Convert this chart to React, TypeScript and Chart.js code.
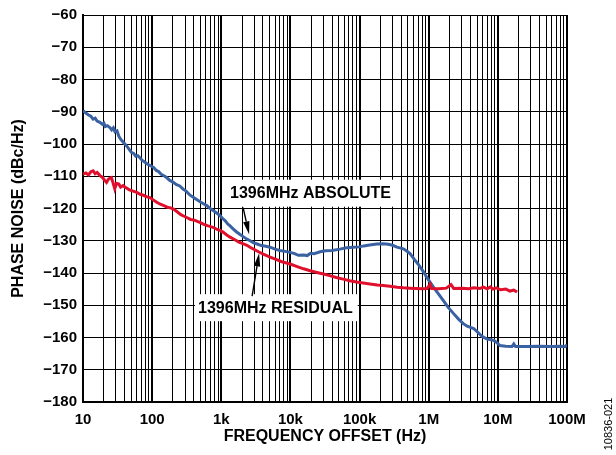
import React, { useEffect, useRef } from 'react';
import { Chart, registerables } from 'chart.js';

Chart.register(...registerables);

// ---- data ----
const ABS_FREQ = [
  10, 11, 12, 13, 14, 15, 16, 17.6, 19, 20, 21, 22.5, 24.5, 26, 27.5, 29, 31, 33, 35, 38,
  42.7, 46, 50, 54, 58, 62, 66, 72, 78, 85, 92, 105, 115, 125, 135, 150, 162, 180, 200, 225,
  251, 280, 310, 350, 398, 440, 500, 560, 617, 700, 780, 860, 955, 1050, 1150, 1250, 1340, 1480, 1650, 1850,
  2100, 2350, 2610, 2900, 3300, 3800, 4400, 5080, 6000, 7000, 8400, 9900, 11500, 13000, 15500, 17500, 19500, 22000, 27000, 32000,
  40000, 52000, 65000, 80000, 100000, 115000, 140000, 178000, 220000, 260000, 300000, 347000, 430000, 480000, 537000, 620000, 700000, 753000, 850000, 933000,
  1050000, 1170000, 1400000, 1620000, 1900000, 2290000, 2700000, 3160000, 3600000, 4470000, 5100000, 5600000, 6170000, 7000000, 8000000, 8700000, 9600000, 10700000, 13000000, 16000000,
  17000000, 18000000, 25000000, 40000000, 60000000, 80000000, 95000000, 100000000,
];
const ABS_DB = [
  -89.7, -90.4, -91.0, -91.4, -92.3, -92.0, -92.9, -93.3, -93.9, -93.5, -94.6, -94.3, -94.9, -95.6, -95.0, -96.2, -95.9, -97.6, -98.5, -99.4,
  -100.6, -101.5, -102.6, -102.9, -103.8, -103.6, -104.2, -105.1, -105.6, -106.2, -106.6, -107.3, -108.2, -108.6, -109.4, -109.9, -110.4, -111.3, -111.8, -112.6,
  -113.0, -114.0, -114.6, -115.8, -116.6, -117.2, -118.0, -118.6, -119.1, -120.1, -120.8, -121.4, -122.2, -123.1, -123.9, -124.9, -125.4, -126.3, -127.2, -128.0,
  -128.8, -129.5, -130.0, -130.6, -131.0, -131.5, -131.7, -132.0, -132.6, -133.0, -133.3, -133.6, -134.0, -134.5, -134.4, -134.6, -133.9, -134.0, -133.4, -133.1,
  -133.0, -132.6, -132.2, -132.0, -131.9, -131.6, -131.3, -131.0, -130.9, -131.1, -131.4, -132.0, -132.5, -133.2, -134.0, -135.8, -137.2, -138.2, -139.8, -141.3,
  -142.9, -144.4, -146.6, -148.5, -150.6, -152.6, -154.3, -155.7, -156.5, -157.2, -158.3, -159.2, -159.9, -160.5, -160.7, -160.9, -161.5, -162.5, -162.7, -162.8,
  -162.0, -162.8, -162.8, -162.7, -162.8, -162.7, -162.8, -162.2,
];

const RES_FREQ = [
  10, 11, 12, 13, 14, 15, 16, 17.6, 19, 20.5, 21.9, 23.5, 25.7, 27, 28.8, 30.5, 33, 35, 38, 42,
  47, 53, 60, 67, 75, 84, 93, 105, 115, 129, 145, 165, 185, 204, 230, 260, 290, 316, 360, 410,
  450, 490, 560, 630, 700, 776, 870, 960, 1070, 1200, 1340, 1550, 1800, 2100, 2350, 2610, 3000, 3500, 4200, 5080,
  6200, 7500, 9900, 12500, 15500, 19300, 25000, 30000, 37000, 46000, 58000, 72000, 90000, 113000, 141000, 180000, 220000, 275000, 350000, 430000,
  537000, 650000, 800000, 950000, 1050000, 1100000, 1400000, 1800000, 2100000, 2300000, 3000000, 3800000, 4500000, 5500000, 6200000, 7000000, 7800000, 8500000, 9500000, 11000000,
  13000000, 15000000, 17000000, 19000000,
];
const RES_DB = [
  -109.3, -109.0, -109.6, -108.6, -108.3, -109.2, -108.8, -109.8, -110.3, -111.2, -111.9, -110.8, -110.4, -111.8, -113.9, -112.2, -112.4, -113.4, -112.9, -113.6,
  -114.2, -114.6, -115.0, -115.6, -115.9, -116.4, -116.6, -117.4, -118.0, -118.6, -119.0, -119.6, -119.8, -120.2, -121.0, -121.9, -122.4, -122.8, -123.4, -123.6,
  -124.0, -124.3, -124.9, -125.3, -125.6, -125.9, -126.5, -126.8, -127.4, -128.2, -128.9, -129.6, -130.4, -131.0, -131.4, -132.0, -132.7, -133.5, -134.3, -135.1,
  -135.8, -136.5, -137.2, -138.0, -138.7, -139.3, -139.9, -140.3, -140.8, -141.4, -141.9, -142.4, -142.8, -143.1, -143.4, -143.7, -143.9, -144.1, -144.4, -144.6,
  -144.7, -144.8, -144.9, -144.8, -143.5, -144.8, -144.9, -144.7, -143.6, -144.8, -144.7, -144.9, -144.6, -144.8, -144.4, -144.9, -144.3, -145.0, -144.6, -145.2,
  -145.0, -145.6, -145.3, -145.9,
];

const X_DECADES = [10, 100, 1000, 10000, 100000, 1000000, 10000000, 100000000];
const X_TICK_LABELS = ['10', '100', '1k', '10k', '100k', '1M', '10M', '100M'];
const X_MINOR_MULTIPLES = [1, 2, 3, 4, 5, 6, 7, 8, 9];
const Y_TICKS = [-180, -170, -160, -150, -140, -130, -120, -110, -100, -90, -80, -70, -60];

const ABS_LABEL = '1396MHz ABSOLUTE';
const RES_LABEL = '1396MHz RESIDUAL';
const X_TITLE = 'FREQUENCY OFFSET (Hz)';
const Y_TITLE = 'PHASE NOISE (dBc/Hz)';
const FIG_ID = '10836-021';

// annotation anchors in data coordinates: [freq, dB]
const ABS_LABEL_AT = [1340, -115.1];
const RES_LABEL_AT = [461, -150.6];
const ABS_ARROW = [[2068, -119.7], [2525, -128.0]];
const RES_ARROW = [[2791, -147.2], [3524, -133.9]];

const BLUE = '#3a62a2';
const RED = '#e0102d';

const X_GRID: number[] = [];
X_DECADES.forEach((d, i) => {
  if (i === X_DECADES.length - 1) X_GRID.push(d);
  else X_MINOR_MULTIPLES.forEach((m) => X_GRID.push(d * m));
});

function isDecade(v: number) {
  return X_DECADES.some((d) => Math.abs(v - d) / d < 1e-6);
}

function drawArrow(ctx: CanvasRenderingContext2D, x1: number, y1: number, x2: number, y2: number) {
  const ang = Math.atan2(y2 - y1, x2 - x1);
  const headLen = 13;
  const headW = 3.2;
  const bx = x2 - headLen * Math.cos(ang);
  const by = y2 - headLen * Math.sin(ang);
  ctx.save();
  ctx.strokeStyle = '#000';
  ctx.fillStyle = '#000';
  ctx.lineWidth = 1.4;
  ctx.beginPath();
  ctx.moveTo(x1, y1);
  ctx.lineTo(bx, by);
  ctx.stroke();
  ctx.beginPath();
  ctx.moveTo(x2, y2);
  ctx.lineTo(bx + headW * Math.sin(ang), by - headW * Math.cos(ang));
  ctx.lineTo(bx - headW * Math.sin(ang), by + headW * Math.cos(ang));
  ctx.closePath();
  ctx.fill();
  ctx.restore();
}

const overlay = {
  id: 'overlay',
  afterDraw(chart: any) {
    const ctx: CanvasRenderingContext2D = chart.ctx;
    const xs = chart.scales.x;
    const ys = chart.scales.y;
    const area = chart.chartArea;
    ctx.save();
    ctx.fillStyle = '#000';

    // axis titles
    ctx.font = 'bold 16px Arial, "Liberation Sans", sans-serif';
    ctx.textAlign = 'center';
    ctx.textBaseline = 'middle';
    ctx.fillText(X_TITLE, (area.left + area.right) / 2, 437);
    ctx.save();
    ctx.translate(19, (area.top + area.bottom) / 2);
    ctx.rotate(-Math.PI / 2);
    ctx.fillText(Y_TITLE, 0, 0);
    ctx.restore();

    // figure id
    ctx.save();
    ctx.font = '11px Arial, "Liberation Sans", sans-serif';
    ctx.translate(609, 424);
    ctx.rotate(-Math.PI / 2);
    ctx.fillText(FIG_ID, 0, 0);
    ctx.restore();

    // labels with white boxes
    ctx.font = 'bold 16px Arial, "Liberation Sans", sans-serif';
    ctx.textAlign = 'left';
    const labels: [string, number[]][] = [
      [ABS_LABEL, ABS_LABEL_AT],
      [RES_LABEL, RES_LABEL_AT],
    ];
    labels.forEach(([txt, at]) => {
      const px = xs.getPixelForValue(at[0]);
      const py = ys.getPixelForValue(at[1]);
      const w = ctx.measureText(txt).width;
      ctx.fillStyle = '#fff';
      ctx.fillRect(px - 3, py - 13, w + 8, 27);
      ctx.fillStyle = '#000';
      ctx.fillText(txt, px, py + 1);
    });

    // arrows
    [ABS_ARROW, RES_ARROW].forEach((a) => {
      drawArrow(
        ctx,
        xs.getPixelForValue(a[0][0]),
        ys.getPixelForValue(a[0][1]),
        xs.getPixelForValue(a[1][0]),
        ys.getPixelForValue(a[1][1])
      );
    });
    ctx.restore();
  },
};

export default function App() {
  const ref = useRef<HTMLCanvasElement | null>(null);
  useEffect(() => {
    if (!ref.current) return;
    const tickFont = { family: 'Arial, "Liberation Sans", sans-serif', weight: 'bold' as const, size: 15 };
    const chart = new Chart(ref.current, {
      type: 'line',
      data: {
        datasets: [
          {
            label: RES_LABEL,
            data: RES_FREQ.map((f, i) => ({ x: f, y: RES_DB[i] })),
            borderColor: RED,
            borderWidth: 3,
            pointRadius: 0,
            tension: 0,
            fill: false,
          },
          {
            label: ABS_LABEL,
            data: ABS_FREQ.map((f, i) => ({ x: f, y: ABS_DB[i] })),
            borderColor: BLUE,
            borderWidth: 3,
            pointRadius: 0,
            tension: 0,
            fill: false,
          },
        ],
      },
      options: {
        animation: false,
        responsive: false,
        devicePixelRatio: 1,
        layout: { padding: { top: 14, right: 49, left: 0, bottom: 0 } },
        plugins: { legend: { display: false }, tooltip: { enabled: false } },
        scales: {
          x: {
            type: 'logarithmic',
            min: 10,
            max: 100000000,
            afterBuildTicks: (s: any) => {
              s.ticks = X_GRID.map((v) => ({ value: v }));
            },
            afterFit: (s: any) => {
              s.height = 53;
            },
            ticks: {
              autoSkip: false,
              maxRotation: 0,
              minRotation: 0,
              padding: 9,
              color: '#000',
              font: tickFont,
              callback: (v: any) => {
                const i = X_DECADES.findIndex((d) => Math.abs(Number(v) - d) / d < 1e-6);
                return i >= 0 ? X_TICK_LABELS[i] : '';
              },
            },
            grid: {
              color: '#000',
              lineWidth: (c: any) => (c.tick && isDecade(c.tick.value) ? 2 : 1),
              drawTicks: false,
            },
            border: { display: true, color: '#000', width: 2 },
          },
          y: {
            type: 'linear',
            min: -180,
            max: -60,
            afterBuildTicks: (s: any) => {
              s.ticks = Y_TICKS.map((v) => ({ value: v }));
            },
            afterFit: (s: any) => {
              s.width = 83;
            },
            ticks: {
              padding: 6,
              color: '#000',
              font: tickFont,
              callback: (v: any) => (Number(v) < 0 ? '\u2212' + Math.abs(Number(v)) : String(v)),
            },
            grid: { color: '#000', lineWidth: 1, drawTicks: false },
            border: { display: true, color: '#000', width: 2 },
          },
        },
      },
      plugins: [overlay],
    } as any);
    return () => chart.destroy();
  }, []);
  return (
    <div style={{ position: 'fixed', left: 0, top: 0, width: 616, height: 455, background: '#fff' }}>
      <canvas ref={ref} width={616} height={455} style={{ display: 'block' }} />
    </div>
  );
}
